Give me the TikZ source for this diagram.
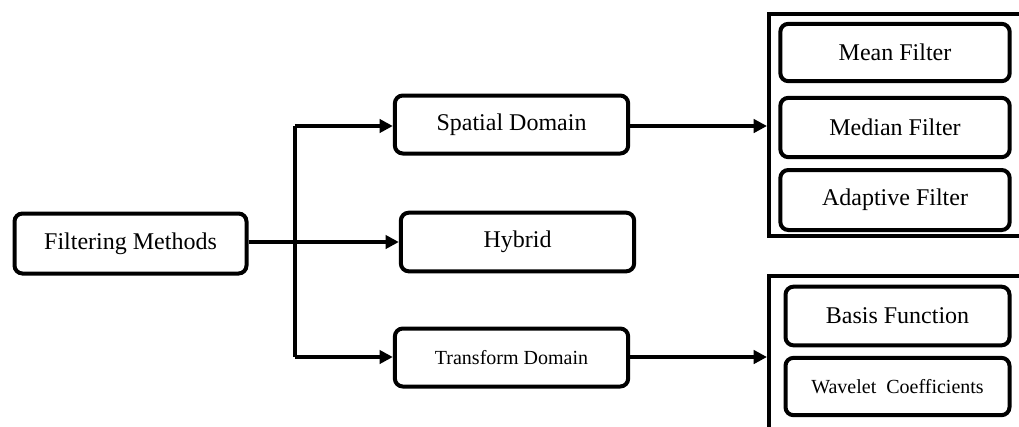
\documentclass[tikz,border=0pt]{standalone}
\usepackage{fontspec}
\setmainfont{Liberation Serif}
\usetikzlibrary{arrows.meta}
\begin{document}
\begin{tikzpicture}[x=0.75pt,y=-0.75pt,
  box/.style={draw, line width=3pt, rounded corners=6pt, align=center,
    font=\fontsize{18}{20}\selectfont, inner sep=0pt},
  smallbox/.style={box, font=\fontsize{15}{17}\selectfont},
  conn/.style={line width=3pt, -{Triangle[length=10pt,width=10pt]}},
  plain/.style={line width=3pt},
  frame/.style={line width=2.6pt}]
\useasboundingbox (0,0) rectangle (1019,426);
% main nodes
\node[box, minimum width=174pt, minimum height=45pt] (fm) at (130.5,243.5) {Filtering Methods};
\node[box, minimum width=175pt, minimum height=43.5pt] (sd) at (511.5,124.5) {Spatial Domain};
\node[box, minimum width=175pt, minimum height=44pt] (hy) at (517.5,242) {Hybrid};
\node[smallbox, minimum width=175pt, minimum height=43.5pt] (td) at (511.5,357.5) {Transform Domain};
% top container
\coordinate (c1tr) at (1025,14);
\coordinate (c1bl) at (769,236);
\coordinate (c1br) at (1025,236);
\draw[frame] (c1tr) -| (c1bl) -- (c1br);
\node[box, minimum width=172pt, minimum height=43pt] (mean) at (895,52.5) {Mean Filter};
\node[box, minimum width=172pt, minimum height=44.5pt] (median) at (895,127.5) {Median Filter};
\node[box, minimum width=172pt, minimum height=45pt] (adapt) at (895,200) {Adaptive Filter};
% bottom container
\coordinate (c2tr) at (1025,276);
\coordinate (c2bl) at (769,432);
\draw[frame] (c2tr) -| (c2bl);
\node[box, minimum width=168pt, minimum height=44pt] (basis) at (897.5,316) {Basis Function};
\node[smallbox, minimum width=168pt, minimum height=43pt] (wave) at (897.5,386.5) {Wavelet\ \ Coefficients};
% connectors
\coordinate (j) at (295,242);
\coordinate (jt) at (295,126);
\coordinate (jb) at (295,357);
\coordinate (e1) at (767,126);
\coordinate (e2) at (767,357);
\draw[conn] (fm.east |- hy.west) -- (hy.west);
\draw[plain] (jt) -- (jb);
\draw[conn] (jt) -- (jt -| sd.west);
\draw[conn] (jb) -- (jb -| td.west);
\draw[conn] (sd.east |- e1) -- (e1);
\draw[conn] (td.east |- e2) -- (e2);
\end{tikzpicture}
\end{document}
